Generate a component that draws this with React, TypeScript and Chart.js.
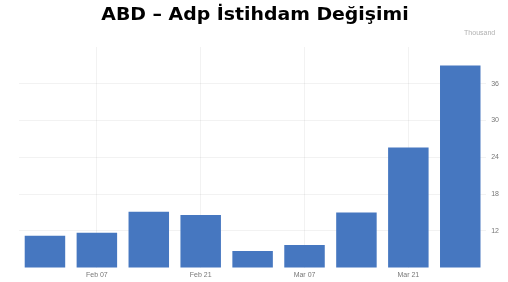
import React, { useEffect, useRef } from "react";
import { Chart, registerables } from "chart.js";

Chart.register(...registerables);

const categories = ["Jan 31", "Feb 07", "Feb 14", "Feb 21", "Feb 28", "Mar 07", "Mar 14", "Mar 21", "Mar 28"];
const values = [11.2, 11.7, 15.1, 14.6, 8.7, 9.7, 15.0, 25.6, 39.0];
const shownLabels = ["Feb 07", "Feb 21", "Mar 07", "Mar 21"];
const yTicks = [12, 18, 24, 30, 36];
const titleText = "ABD – Adp İstihdam Değişimi";
const unitLabel = "Thousand";

const textPlugin = {
  id: "headerTexts",
  afterDraw(chart: any) {
    const { ctx, chartArea } = chart;
    ctx.save();
    ctx.font = "bold 17px 'DejaVu Sans'";
    ctx.fillStyle = "#000";
    ctx.textAlign = "center";
    ctx.textBaseline = "alphabetic";
    ctx.translate(255, 20);
    ctx.scale(1.11, 1);
    ctx.fillText(titleText, 0, 0);
    ctx.restore();
    ctx.save();
    ctx.font = "7px 'Liberation Sans'";
    ctx.fillStyle = "#b0b0b0";
    ctx.textAlign = "right";
    ctx.textBaseline = "middle";
    ctx.fillText(unitLabel, chartArea.right + 9, 33);
    ctx.restore();
  },
};

export default function App() {
  const ref = useRef<HTMLCanvasElement>(null);
  useEffect(() => {
    const chart = new Chart(ref.current!, {
      type: "bar",
      data: {
        labels: categories,
        datasets: [
          {
            data: values,
            backgroundColor: "#4677c0",
            barPercentage: 0.78,
            categoryPercentage: 1,
          },
        ],
      },
      plugins: [textPlugin],
      options: {
        animation: false,
        responsive: false,
        layout: { padding: { left: 19, right: 4, top: 47, bottom: 0 } },
        plugins: {
          legend: { display: false },
          tooltip: { enabled: false },
          title: { display: false },
        },
        scales: {
          x: {
            grid: {
              offset: false,
              color: (ctx: any) => (shownLabels.includes(categories[ctx.index]) ? "rgba(0,0,0,0.05)" : "rgba(0,0,0,0)"),
              drawTicks: false,
            },
            border: { display: false },
            ticks: {
              autoSkip: false,
              maxRotation: 0,
              color: "#777",
              font: { family: "Liberation Sans", size: 7 },
              padding: 3,
              callback: (_v: any, i: number) => (shownLabels.includes(categories[i]) ? categories[i] : ""),
            },
          },
          y: {
            position: "right",
            min: 6,
            max: 42,
            afterBuildTicks: (axis: any) => {
              axis.ticks = [6, ...yTicks, 42].map((v) => ({ value: v }));
            },
            grid: {
              color: (ctx: any) => (yTicks.includes(ctx.tick?.value) ? "rgba(0,0,0,0.05)" : "rgba(0,0,0,0)"),
              drawTicks: false,
            },
            border: { display: false },
            ticks: {
              color: "#777",
              font: { family: "Liberation Sans", size: 7 },
              padding: 5,
              callback: (v: any) => (yTicks.includes(v) ? String(v) : ""),
            },
          },
        },
      },
    });
    return () => chart.destroy();
  }, []);
  return (
    <div style={{ position: "absolute", left: 0, top: 0, width: 508, height: 282, background: "#fff" }}>
      <canvas ref={ref} width={508} height={282} />
    </div>
  );
}
